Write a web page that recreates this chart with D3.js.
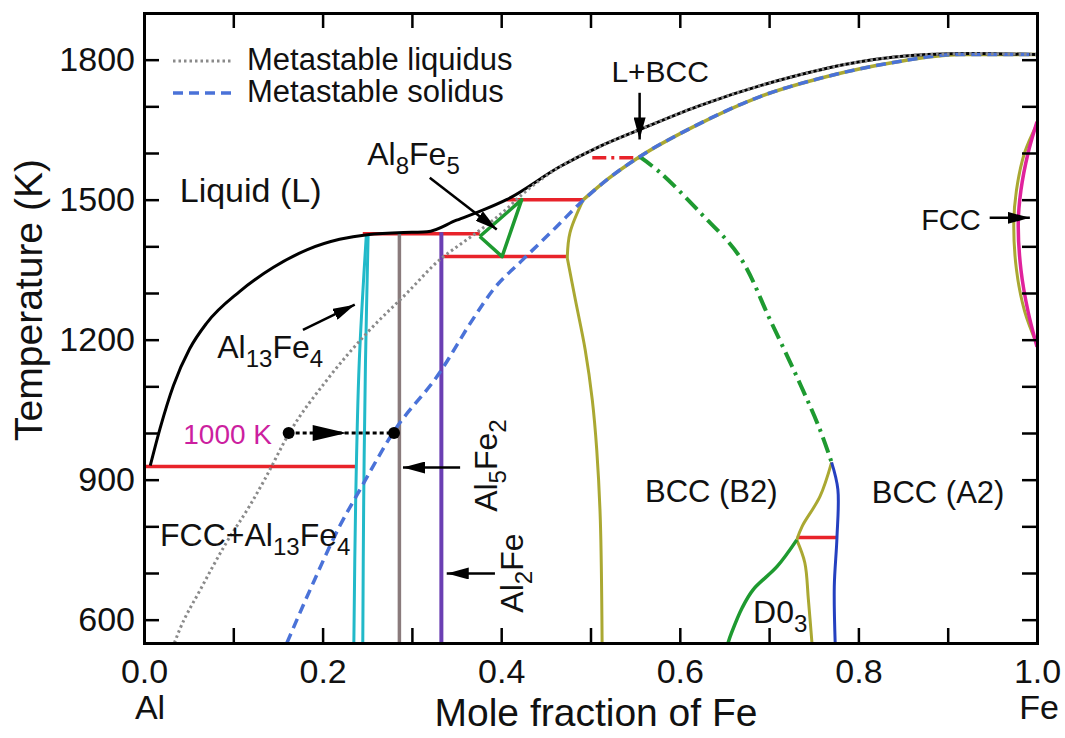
<!DOCTYPE html>
<html>
<head>
<meta charset="utf-8">
<script src="https://cdn.jsdelivr.net/npm/d3@7"></script>
<style>
  body { margin: 0; background: #fff; }
  text { font-family: "Liberation Sans", Arial, Helvetica, sans-serif; }
</style>
</head>
<body>
<svg id="chart" width="1065" height="738"></svg>
<script>
// Al-Fe phase diagram (x = mole fraction Fe, T in K)

var xTicks = [0, 0.1, 0.2, 0.3, 0.4, 0.5, 0.6, 0.7, 0.8, 0.9, 1.0];
var xLabelTicks = [0, 0.2, 0.4, 0.6, 0.8, 1.0];
var yTicks = [600, 700, 800, 900, 1000, 1100, 1200, 1300, 1400, 1500, 1600, 1700, 1800];
var yLabelTicks = [600, 900, 1200, 1500, 1800];

var liquidus = [[0.007, 930], [0.018, 1010], [0.033, 1102], [0.051, 1180], [0.07, 1235],
  [0.107, 1303], [0.145, 1355], [0.183, 1393], [0.219, 1415], [0.25, 1425], [0.3, 1430],
  [0.317, 1431], [0.35, 1456], [0.38, 1478], [0.406, 1500], [0.466, 1571], [0.507, 1611],
  [0.555, 1650], [0.62, 1700], [0.727, 1764], [0.8, 1795], [0.877, 1811], [0.93, 1813], [1.0, 1811]];

var metaLiquidus = [[0.034, 550], [0.04, 579], [0.063, 664], [0.091, 761], [0.119, 846],
  [0.135, 900], [0.163, 1001], [0.205, 1114], [0.25, 1215], [0.295, 1301], [0.331, 1371],
  [0.354, 1404], [0.38, 1440], [0.406, 1480], [0.421, 1507], [0.466, 1571], [0.507, 1611],
  [0.555, 1650], [0.62, 1700], [0.727, 1764], [0.8, 1795], [0.877, 1811], [0.93, 1813], [1.0, 1811]];

var metaSolidus = [[0.16, 550], [0.186, 664], [0.219, 800], [0.242, 879], [0.279, 1001],
  [0.331, 1129], [0.368, 1243], [0.391, 1307], [0.424, 1371], [0.462, 1442], [0.488, 1492],
  [0.52, 1545], [0.555, 1592], [0.615, 1656], [0.69, 1721], [0.765, 1764], [0.839, 1794],
  [0.914, 1811], [1.0, 1811]];

var bccSolidus = [[0.492, 1500], [0.52, 1545], [0.555, 1592], [0.615, 1656], [0.69, 1721],
  [0.765, 1764], [0.839, 1794], [0.914, 1811], [1.0, 1811]];
var bccUpper = [[0.492, 1500], [0.477, 1429], [0.474, 1375]];
var bccLower = [[0.474, 1375], [0.483, 1286], [0.494, 1179], [0.502, 1071], [0.507, 964],
  [0.511, 814], [0.513, 550]];

var b2D03Upper = [[0.77, 937], [0.757, 864], [0.737, 800], [0.731, 771]];
var b2D03Lower = [[0.731, 771], [0.74, 722], [0.744, 643], [0.748, 550]];
var a2Boundary = [[0.77, 937], [0.777, 879], [0.776, 776], [0.773, 671], [0.774, 550]];
var d03Boundary = [[0.731, 771], [0.709, 714], [0.682, 664], [0.67, 626], [0.658, 572], [0.654, 550]];
var metaOrder = [[0.555, 1592], [0.578, 1558], [0.623, 1472], [0.667, 1378], [0.701, 1243],
  [0.735, 1104], [0.757, 1007], [0.77, 937]];

var al13fe4Left = [[0.249, 1425], [0.241, 1150], [0.237, 850], [0.235, 550]];
var al13fe4Right = [[0.251, 1425], [0.248, 1150], [0.246, 850], [0.245, 550]];
var al5fe2 = [[0.286, 1430], [0.286, 550]];
var al2fe = [[0.333, 1430], [0.333, 550]];
var al8fe5 = [[0.376, 1421], [0.423, 1500], [0.401, 1378], [0.376, 1421]];

var fccLoop = [[1.0, 1667], [0.99, 1600], [0.982, 1520], [0.979, 1450], [0.982, 1350], [0.99, 1260], [1.0, 1185]];
var bccLoop = [[1.0, 1662], [0.986, 1600], [0.977, 1520], [0.974, 1450], [0.977, 1350], [0.986, 1262], [1.0, 1190]];

// invariant reactions: [x start, x end, T]
var invariants = [[0, 0.238, 928], [0.245, 0.376, 1427], [0.335, 0.474, 1378], [0.406, 0.492, 1500], [0.731, 0.776, 776]];
var metaInvariant = [[0.502, 0.555, 1590]];

var x = d3.scaleLinear().domain([0, 1]).range([144, 1037]);
var y = d3.scaleLinear().domain([550, 1900]).range([643, 13]);

var svg = d3.select("#chart");

svg.append("clipPath").attr("id", "plot-clip")
  .append("rect").attr("x", x(0)).attr("y", y(1900)).attr("width", x(1) - x(0)).attr("height", y(550) - y(1900));

var defs = svg.append("defs");
defs.append("marker").attr("id", "head")
  .attr("markerUnits", "userSpaceOnUse")
  .attr("viewBox", "0 0 22 12").attr("refX", 22).attr("refY", 6)
  .attr("markerWidth", 22).attr("markerHeight", 12).attr("orient", "auto")
  .append("path").attr("d", "M0,0L22,6L0,12Z").attr("fill", "#000");

var plot = svg.append("g").attr("clip-path", "url(#plot-clip)");

var smooth = d3.line().x(function (d) { return x(d[0]); }).y(function (d) { return y(d[1]); })
  .curve(d3.curveCatmullRom.alpha(0.5));
var monoX = d3.line().x(function (d) { return x(d[0]); }).y(function (d) { return y(d[1]); })
  .curve(d3.curveMonotoneX);
var straight = d3.line().x(function (d) { return x(d[0]); }).y(function (d) { return y(d[1]); });

function draw(data, color, width, dash, gen) {
  var p = plot.append("path")
    .attr("d", (gen || smooth)(data))
    .attr("fill", "none")
    .attr("stroke", color)
    .attr("stroke-width", width)
    .attr("stroke-linejoin", "round");
  if (dash) p.attr("stroke-dasharray", dash);
  return p;
}

// invariant lines
invariants.forEach(function (d) {
  draw([[d[0], d[2]], [d[1], d[2]]], "#e8232a", 3.5, null, straight);
});
metaInvariant.forEach(function (d) {
  draw([[d[0], d[2]], [d[1], d[2]]], "#e8232a", 3.5, "14,5,3,5", straight);
});

// compounds
draw(al13fe4Left, "#22b9c9", 3);
draw(al13fe4Right, "#22b9c9", 3);
draw(al5fe2, "#8a7b7c", 3.5, null, straight);
draw(al2fe, "#6b3fb3", 4, null, straight);
draw(al8fe5, "#1e9a30", 3.5, null, straight);

// bcc / ordering boundaries
draw(bccUpper, "#aaa832", 3);
draw(bccLower, "#aaa832", 3);
draw(bccSolidus, "#aaa832", 3.5, null, monoX);
draw(b2D03Upper, "#aaa832", 3);
draw(b2D03Lower, "#aaa832", 3);
draw(a2Boundary, "#2540c0", 3);
draw(d03Boundary, "#1e9a30", 3.5);
draw(metaOrder, "#1e9a30", 4, "16,6,3,6");

// gamma loop
draw(bccLoop, "#aaa832", 3);
draw(fccLoop, "#e0229c", 3.5);

// liquidus and metastable curves
draw(liquidus, "#000", 3, null, monoX);
draw(metaSolidus, "#4a72d8", 3.5, "10,6", monoX);
draw(metaLiquidus, "#8a8a8a", 3, "2.5,3", monoX);

// axes with inward ticks
function fmt(list) {
  return function (d) {
    return list.some(function (v) { return Math.abs(v - d) < 1e-9; }) ? (d3.format(d < 10 ? ".1f" : "d")(d)) : "";
  };
}
var axB = svg.append("g").attr("transform", "translate(0," + y(550) + ")")
  .call(d3.axisBottom(x).tickValues(xTicks).tickSizeInner(-15).tickSizeOuter(0).tickPadding(16).tickFormat(fmt(xLabelTicks)));
var axT = svg.append("g").attr("transform", "translate(0," + y(1900) + ")")
  .call(d3.axisTop(x).tickValues(xTicks).tickSizeInner(-15).tickSizeOuter(0).tickFormat(""));
var axL = svg.append("g").attr("transform", "translate(" + x(0) + ",0)")
  .call(d3.axisLeft(y).tickValues(yTicks).tickSizeInner(-15).tickSizeOuter(0).tickPadding(9).tickFormat(fmt(yLabelTicks)));
var axR = svg.append("g").attr("transform", "translate(" + x(1) + ",0)")
  .call(d3.axisRight(y).tickValues(yTicks).tickSizeInner(-15).tickSizeOuter(0).tickFormat(""));

[axB, axT, axL, axR].forEach(function (g) {
  g.select(".domain").attr("stroke", "#000").attr("stroke-width", 3).attr("stroke-linecap", "square");
  g.selectAll(".tick line").attr("stroke", "#000").attr("stroke-width", 2.5);
  g.selectAll(".tick text").attr("font-size", 34).attr("fill", "#111")
    .style("font-family", "'Liberation Sans', Arial, sans-serif");
});

svg.append("text").attr("x", x(0) + 6).attr("y", 719).attr("text-anchor", "middle")
  .attr("font-size", 34).attr("fill", "#111").text("Al");
svg.append("text").attr("x", x(1) + 2).attr("y", 719).attr("text-anchor", "middle")
  .attr("font-size", 34).attr("fill", "#111").text("Fe");
svg.append("text").attr("x", 596).attr("y", 726).attr("text-anchor", "middle")
  .attr("font-size", 39).attr("fill", "#111").text("Mole fraction of Fe");
svg.append("text").attr("transform", "translate(42,300) rotate(-90)")
  .attr("text-anchor", "middle").attr("font-size", 39).attr("fill", "#111").text("Temperature (K)");

// labels; parts: [text, isSubscript]
function label(parts, px, py, opts) {
  opts = opts || {};
  var size = opts.size || 32;
  var t = svg.append("text")
    .attr("font-size", size)
    .attr("fill", opts.color || "#111")
    .attr("text-anchor", opts.anchor || "start");
  if (opts.rotate) t.attr("transform", "translate(" + px + "," + py + ") rotate(-90)");
  else t.attr("x", px).attr("y", py);
  var shift = 0;
  parts.forEach(function (p) {
    var s = t.append("tspan").text(p[0]);
    if (p[1]) { s.attr("dy", 9 - shift).attr("font-size", Math.round(size * 0.75)); shift = 9; }
    else { s.attr("dy", -shift); shift = 0; }
  });
  return t;
}

label([["Liquid (L)"]], x(0.04), y(1494), { size: 34 });
label([["Al"], ["8", 1], ["Fe"], ["5", 1]], x(0.25), y(1575));
label([["L+BCC"]], x(0.578), y(1753), { anchor: "middle", size: 30 });
label([["FCC"]], x(0.937), y(1436), { anchor: "end", size: 29 });
label([["Al"], ["13", 1], ["Fe"], ["4", 1]], x(0.082), y(1161));
label([["1000 K"]], x(0.044), y(976), { color: "#cc1f9f", size: 28 });
label([["FCC+Al"], ["13", 1], ["Fe"], ["4", 1]], x(0.018), y(757));
label([["Al"], ["5", 1], ["Fe"], ["2", 1]], x(0.395), y(831), { rotate: true });
label([["Al"], ["2", 1], ["Fe"]], x(0.424), y(615), { rotate: true });
label([["BCC (B2)"]], x(0.561), y(853), { size: 31 });
label([["BCC (A2)"]], x(0.815), y(851), { size: 31 });
label([["D0"], ["3", 1]], x(0.682), y(592));

// arrows: [x0, T0, x1, T1]
var arrows = [[0.32, 1547, 0.395, 1436], [0.555, 1729, 0.555, 1629], [0.947, 1461, 0.992, 1461],
  [0.178, 1221, 0.236, 1275], [0.354, 926, 0.29, 926], [0.393, 699, 0.339, 699]];
arrows.forEach(function (a) {
  svg.append("line")
    .attr("x1", x(a[0])).attr("y1", y(a[1])).attr("x2", x(a[2])).attr("y2", y(a[3]))
    .attr("stroke", "#000").attr("stroke-width", 2.5).attr("marker-end", "url(#head)");
});

// 1000 K tie line
var tie = [[0.162, 1000], [0.28, 1000]];
svg.append("path").attr("d", straight(tie)).attr("stroke", "#000").attr("stroke-width", 3)
  .attr("stroke-dasharray", "4,3").attr("fill", "none");
svg.selectAll(".tie-dot").data(tie).enter().append("circle")
  .attr("cx", function (d) { return x(d[0]); }).attr("cy", function (d) { return y(d[1]); })
  .attr("r", 6).attr("fill", "#000");
var mid = x(0.227), my = y(1000);
svg.append("path").attr("d", "M" + (mid - 34) + "," + (my - 8) + "L" + mid + "," + my + "L" + (mid - 34) + "," + (my + 8) + "Z")
  .attr("fill", "#000");

// legend
var lg = svg.append("g");
lg.append("line").attr("x1", 173).attr("x2", 233).attr("y1", 61).attr("y2", 61)
  .attr("stroke", "#8a8a8a").attr("stroke-width", 3).attr("stroke-dasharray", "2.5,3");
lg.append("line").attr("x1", 173).attr("x2", 233).attr("y1", 93).attr("y2", 93)
  .attr("stroke", "#4a72d8").attr("stroke-width", 3.5).attr("stroke-dasharray", "10,6");
lg.append("text").attr("x", 247).attr("y", 70).attr("font-size", 31).attr("fill", "#111").text("Metastable liquidus");
lg.append("text").attr("x", 247).attr("y", 102).attr("font-size", 31).attr("fill", "#111").text("Metastable solidus");
</script>
</body>
</html>
